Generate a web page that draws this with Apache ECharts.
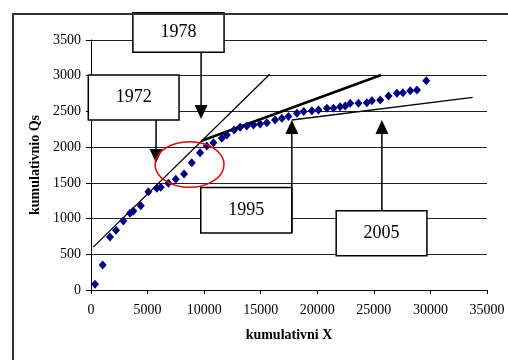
<!DOCTYPE html>
<html><head><meta charset="utf-8">
<script src="https://cdn.jsdelivr.net/npm/echarts@6/dist/echarts.min.js"></script>
<style>html,body{margin:0;padding:0;background:#fff}#c{width:508px;height:360px}</style>
</head><body><div id="c"></div>
<script>
// ---- data ----
const xTickLabels = ['0','5000','10000','15000','20000','25000','30000','35000'];
const yTickLabels = ['0','500','1000','1500','2000','2500','3000','3500'];
const cumX = [354,1035,1680,2210,2860,3450,3740,4400,5070,5810,6165,6840,7490,8225,8905,9640,
  10230,10820,11560,12000,12650,13180,13770,14360,14950,15540,16270,16870,17450,18200,18800,
  19520,20110,20850,21430,22020,22470,22910,23640,24380,24830,25560,26300,27040,27570,28220,28810,29630];
const cumQs = [80,350,742,836,966,1074,1106,1180,1376,1424,1438,1494,1550,1624,1782,1922,
  2016,2062,2124,2170,2240,2278,2296,2310,2324,2342,2380,2404,2430,2475,2500,
  2510,2520,2544,2544,2566,2576,2614,2614,2622,2650,2660,2716,2754,2762,2790,2800,2930];
const trend1972X = [200,15800];   const trend1972Y = [600,3020];
const trend1978X = [9790,25650];  const trend1978Y = [2090,3010];
const trend1995X = [17750,33730]; const trend1995Y = [2380,2698];
const annoLabels = ['1978','1972','1995','2005'];

// ---- annotation geometry (data units) ----
const annoBoxes = [
  {x0:3700, x1:11760, y0:3330, y1:3880, from:[9730,3330], tip:[9730,2394]},
  {x0:-240, x1:7780,  y0:2380, y1:3010, from:[5750,2380], tip:[5750,1778]},
  {x0:9700, x1:17750, y0:798,  y1:1435, from:[17750,798], tip:[17750,2380]},
  {x0:21670,x1:29690, y0:480,  y1:1110, from:[25710,1110],tip:[25710,2380]}
];
const ellipseCenter = [8710,1757];

const pairs = (xs, ys) => xs.map((x,i)=>[x, ys[i]]);
const serif = '"Liberation Serif","Times New Roman",serif';

const chart = echarts.init(document.getElementById('c'), null, {renderer:'canvas'});
chart.setOption({
  animation:false,
  backgroundColor:'#fff',
  grid:{left:91, right:21, top:40, bottom:70, containLabel:false},
  xAxis:{type:'value', min:0, max:35000, interval:5000,
    name:'kumulativni X', nameLocation:'middle', nameGap:38,
    nameTextStyle:{fontFamily:serif, fontSize:14, fontWeight:'bold', color:'#000'},
    axisLine:{lineStyle:{color:'#000', width:1}},
    axisTick:{show:true, length:4, lineStyle:{color:'#000'}},
    axisLabel:{margin:13, fontFamily:serif, fontSize:14, color:'#000',
      formatter:(v)=>xTickLabels[Math.round(v/5000)]},
    splitLine:{show:false}},
  yAxis:{type:'value', min:0, max:3500, interval:500,
    name:'kumulativnio Qs', nameLocation:'middle', nameGap:46,
    nameTextStyle:{fontFamily:serif, fontSize:14, fontWeight:'bold', color:'#000'},
    axisLine:{show:true, lineStyle:{color:'#000', width:1}},
    axisTick:{show:true, length:5, lineStyle:{color:'#000'}},
    axisLabel:{margin:10, fontFamily:serif, fontSize:14, color:'#000',
      formatter:(v)=>yTickLabels[Math.round(v/500)]},
    splitLine:{show:true, lineStyle:{color:'#222', width:1}}},
  series:[
    {type:'line', data:pairs(trend1972X,trend1972Y), symbol:'none', lineStyle:{color:'#000', width:1.3}, z:3},
    {type:'line', data:pairs(trend1978X,trend1978Y), symbol:'none', lineStyle:{color:'#000', width:2.6}, z:3},
    {type:'line', data:pairs(trend1995X,trend1995Y), symbol:'none', lineStyle:{color:'#000', width:1.3}, z:3},
    {type:'scatter', data:pairs(cumX,cumQs), symbol:'diamond', symbolSize:[8,9],
      itemStyle:{color:'#000080', opacity:1}, z:4}
  ]
});

function px(p){ return chart.convertToPixel({xAxisIndex:0, yAxisIndex:0}, p); }
const g = [];
// outer chart frame
g.push({type:'rect', shape:{x:13, y:14, width:600, height:400},
  style:{fill:null, stroke:'#333', lineWidth:2}, z:200});
annoBoxes.forEach((b,i)=>{
  const a = px([b.x0, b.y1]), c = px([b.x1, b.y0]);
  g.push({type:'rect', shape:{x:a[0], y:a[1], width:c[0]-a[0], height:c[1]-a[1]},
    style:{fill:'#fff', stroke:'#000', lineWidth:1.5}, z:100});
  g.push({type:'text', x:(a[0]+c[0])/2, y:(a[1]+c[1])/2,
    style:{text:annoLabels[i], font:'18px '+serif, fill:'#000', align:'center', verticalAlign:'middle'}, z:101});
  const f = px(b.from), t = px(b.tip);
  const dir = t[1] > f[1] ? 1 : -1;
  const headLen = 14, headHalf = 6.5;
  g.push({type:'line', shape:{x1:f[0], y1:f[1], x2:t[0], y2:t[1]-dir*headLen},
    style:{stroke:'#000', lineWidth:1.5}, z:101});
  g.push({type:'polygon', shape:{points:[[t[0],t[1]],[t[0]-headHalf,t[1]-dir*headLen],[t[0]+headHalf,t[1]-dir*headLen]]},
    style:{fill:'#000'}, z:101});
});
const ec = px(ellipseCenter);
g.push({type:'ellipse', shape:{cx:ec[0], cy:ec[1], rx:34.5, ry:22.8},
  style:{fill:null, stroke:'#e00', lineWidth:1.5}, z:102});
chart.setOption({graphic:g});
</script>
</body></html>
